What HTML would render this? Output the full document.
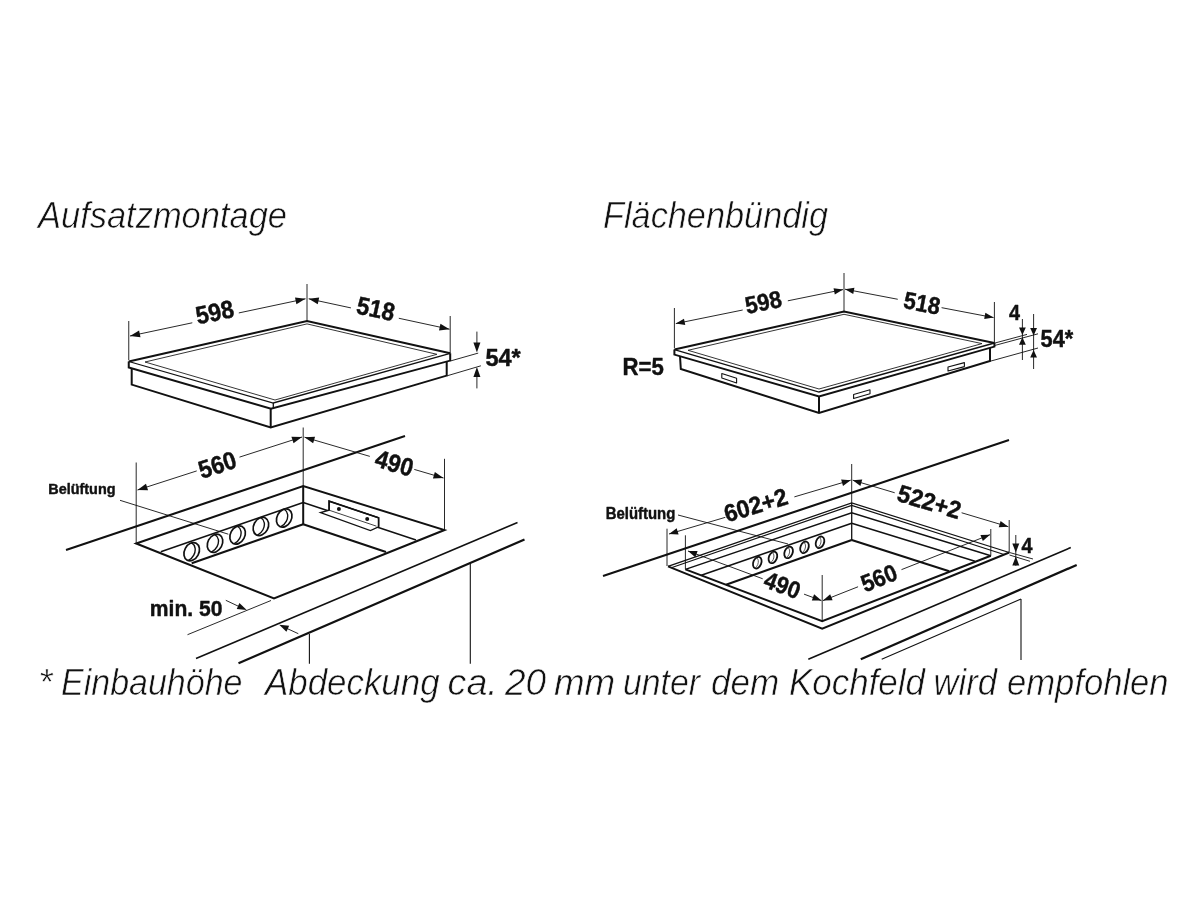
<!DOCTYPE html>
<html><head><meta charset="utf-8"><title>Einbauskizze</title>
<style>
html,body{margin:0;padding:0;background:#fff;}
body{width:1200px;height:900px;overflow:hidden;font-family:"Liberation Sans",sans-serif;}
svg{display:block;}
</style></head><body>
<svg width="1200" height="900" viewBox="0 0 1200 900">
<rect width="1200" height="900" fill="#fff"/>
<g style="opacity:0.999">
<text transform="translate(38.00 227.50) rotate(0.00) scale(1.0 1)" text-anchor="start" style="font-family:'Liberation Sans',sans-serif;font-size:36.5px;font-style:italic;" fill="#111" textLength="249.0" lengthAdjust="spacingAndGlyphs" stroke="#fff" stroke-width="0.6" paint-order="fill stroke">Aufsatzmontage</text>
<text transform="translate(603.00 227.50) rotate(0.00) scale(1.0 1)" text-anchor="start" style="font-family:'Liberation Sans',sans-serif;font-size:36.5px;font-style:italic;" fill="#111" textLength="225.0" lengthAdjust="spacingAndGlyphs" stroke="#fff" stroke-width="0.6" paint-order="fill stroke">Flächenbündig</text>
<text transform="translate(38.30 694.50) rotate(0.00) scale(1.0 1)" text-anchor="start" style="font-family:'Liberation Sans',sans-serif;font-size:36.5px;font-style:italic;" fill="#111" textLength="14.2" lengthAdjust="spacingAndGlyphs" stroke="#fff" stroke-width="0.6" paint-order="fill stroke">*</text>
<text transform="translate(61.00 694.50) rotate(0.00) scale(1.0 1)" text-anchor="start" style="font-family:'Liberation Sans',sans-serif;font-size:36.5px;font-style:italic;" fill="#111" textLength="181.5" lengthAdjust="spacingAndGlyphs" stroke="#fff" stroke-width="0.6" paint-order="fill stroke">Einbauhöhe</text>
<text transform="translate(265.00 694.50) rotate(0.00) scale(1.0 1)" text-anchor="start" style="font-family:'Liberation Sans',sans-serif;font-size:36.5px;font-style:italic;" fill="#111" textLength="174.6" lengthAdjust="spacingAndGlyphs" stroke="#fff" stroke-width="0.6" paint-order="fill stroke">Abdeckung</text>
<text transform="translate(447.60 694.50) rotate(0.00) scale(1.0 1)" text-anchor="start" style="font-family:'Liberation Sans',sans-serif;font-size:36.5px;font-style:italic;" fill="#111" textLength="50.2" lengthAdjust="spacingAndGlyphs" stroke="#fff" stroke-width="0.6" paint-order="fill stroke">ca.</text>
<text transform="translate(504.90 694.50) rotate(0.00) scale(1.0 1)" text-anchor="start" style="font-family:'Liberation Sans',sans-serif;font-size:36.5px;font-style:italic;" fill="#111" textLength="41.2" lengthAdjust="spacingAndGlyphs" stroke="#fff" stroke-width="0.6" paint-order="fill stroke">20</text>
<text transform="translate(553.90 694.50) rotate(0.00) scale(1.0 1)" text-anchor="start" style="font-family:'Liberation Sans',sans-serif;font-size:36.5px;font-style:italic;" fill="#111" textLength="61.3" lengthAdjust="spacingAndGlyphs" stroke="#fff" stroke-width="0.6" paint-order="fill stroke">mm</text>
<text transform="translate(622.90 694.50) rotate(0.00) scale(1.0 1)" text-anchor="start" style="font-family:'Liberation Sans',sans-serif;font-size:36.5px;font-style:italic;" fill="#111" textLength="77.1" lengthAdjust="spacingAndGlyphs" stroke="#fff" stroke-width="0.6" paint-order="fill stroke">unter</text>
<text transform="translate(710.90 694.50) rotate(0.00) scale(1.0 1)" text-anchor="start" style="font-family:'Liberation Sans',sans-serif;font-size:36.5px;font-style:italic;" fill="#111" textLength="68.2" lengthAdjust="spacingAndGlyphs" stroke="#fff" stroke-width="0.6" paint-order="fill stroke">dem</text>
<text transform="translate(789.00 694.50) rotate(0.00) scale(1.0 1)" text-anchor="start" style="font-family:'Liberation Sans',sans-serif;font-size:36.5px;font-style:italic;" fill="#111" textLength="136.0" lengthAdjust="spacingAndGlyphs" stroke="#fff" stroke-width="0.6" paint-order="fill stroke">Kochfeld</text>
<text transform="translate(933.50 694.50) rotate(0.00) scale(1.0 1)" text-anchor="start" style="font-family:'Liberation Sans',sans-serif;font-size:36.5px;font-style:italic;" fill="#111" textLength="63.5" lengthAdjust="spacingAndGlyphs" stroke="#fff" stroke-width="0.6" paint-order="fill stroke">wird</text>
<text transform="translate(1007.00 694.50) rotate(0.00) scale(1.0 1)" text-anchor="start" style="font-family:'Liberation Sans',sans-serif;font-size:36.5px;font-style:italic;" fill="#111" textLength="161.6" lengthAdjust="spacingAndGlyphs" stroke="#fff" stroke-width="0.6" paint-order="fill stroke">empfohlen</text>
<path d="M128.75 361.50 L307.00 321.00 L450.20 353.30" fill="none" stroke="#111" stroke-width="2.0" stroke-linejoin="miter"/>
<path d="M128.75 361.50 L273.30 403.00 L450.20 353.30" fill="none" stroke="#111" stroke-width="1.3" stroke-linejoin="miter"/>
<path d="M128.75 361.50 L128.75 367.50 L271.00 408.60 L450.20 360.60 L450.20 353.30" fill="none" stroke="#111" stroke-width="2.0" stroke-linejoin="miter"/>
<line x1="273.30" y1="403.00" x2="273.30" y2="408.90" stroke="#111" stroke-width="1.3" stroke-linecap="butt"/>
<path d="M145.00 362.00 L307.00 323.90 L436.90 354.30 L275.00 400.00 Z" fill="none" stroke="#111" stroke-width="0.85" stroke-linejoin="miter"/>
<path d="M131.70 368.00 L131.70 384.60 L270.70 427.50 L446.70 375.60 L446.70 361.00" fill="none" stroke="#111" stroke-width="2.0" stroke-linejoin="miter"/>
<line x1="270.70" y1="408.60" x2="270.70" y2="427.50" stroke="#111" stroke-width="2.0" stroke-linecap="butt"/>
<line x1="128.75" y1="321.00" x2="128.75" y2="360.00" stroke="#111" stroke-width="0.9" stroke-linecap="butt"/>
<line x1="307.00" y1="284.00" x2="307.00" y2="321.00" stroke="#111" stroke-width="0.9" stroke-linecap="butt"/>
<line x1="450.20" y1="316.00" x2="450.20" y2="353.00" stroke="#111" stroke-width="0.9" stroke-linecap="butt"/>
<line x1="130.00" y1="336.00" x2="192.30" y2="322.79" stroke="#111" stroke-width="0.9" stroke-linecap="butt"/>
<line x1="238.81" y1="312.94" x2="305.50" y2="298.80" stroke="#111" stroke-width="0.9" stroke-linecap="butt"/>
<polygon points="130.00,336.00 139.08,330.60 140.49,337.25" fill="#111"/>
<polygon points="305.50,298.80 296.42,304.20 295.01,297.55" fill="#111"/>
<text transform="translate(216.50 320.60) rotate(-11.97) scale(0.92 1)" text-anchor="middle" style="font-family:'Liberation Sans',sans-serif;font-size:25px;font-weight:bold;" fill="#111" stroke="#111" stroke-width="0.45" stroke-linejoin="round">598</text>
<line x1="308.70" y1="298.80" x2="350.94" y2="307.92" stroke="#111" stroke-width="0.9" stroke-linecap="butt"/>
<line x1="398.81" y1="318.26" x2="449.50" y2="329.20" stroke="#111" stroke-width="0.9" stroke-linecap="butt"/>
<polygon points="308.70,298.80 319.19,297.59 317.76,304.23" fill="#111"/>
<polygon points="449.50,329.20 439.01,330.41 440.44,323.77" fill="#111"/>
<text transform="translate(374.00 317.20) rotate(12.18) scale(0.92 1)" text-anchor="middle" style="font-family:'Liberation Sans',sans-serif;font-size:25px;font-weight:bold;" fill="#111" stroke="#111" stroke-width="0.45" stroke-linejoin="round">518</text>
<line x1="450.70" y1="360.90" x2="478.20" y2="353.10" stroke="#111" stroke-width="0.9" stroke-linecap="butt"/>
<line x1="447.10" y1="375.80" x2="480.90" y2="365.80" stroke="#111" stroke-width="0.9" stroke-linecap="butt"/>
<line x1="476.90" y1="331.60" x2="476.90" y2="345.00" stroke="#111" stroke-width="0.9" stroke-linecap="butt"/>
<polygon points="476.90,352.40 473.40,342.40 480.40,342.40" fill="#111"/>
<line x1="476.90" y1="376.00" x2="476.90" y2="388.40" stroke="#111" stroke-width="0.9" stroke-linecap="butt"/>
<polygon points="476.90,367.10 480.40,377.10 473.40,377.10" fill="#111"/>
<text transform="translate(485.40 366.20) rotate(0.00) scale(0.99 1)" text-anchor="start" style="font-family:'Liberation Sans',sans-serif;font-size:23.8px;font-weight:bold;" fill="#111" stroke="#111" stroke-width="0.45" stroke-linejoin="round">54*</text>
<path d="M674.40 349.60 L844.00 311.60 L994.40 343.00" fill="none" stroke="#111" stroke-width="2.0" stroke-linejoin="miter"/>
<path d="M674.40 349.60 L819.00 392.00 L994.40 343.00" fill="none" stroke="#111" stroke-width="1.3" stroke-linejoin="miter"/>
<path d="M674.40 349.60 L674.40 354.60 L819.00 396.50 L994.40 346.60 L994.40 343.00" fill="none" stroke="#111" stroke-width="2.0" stroke-linejoin="miter"/>
<path d="M688.00 350.30 L844.00 314.30 L982.00 343.60 L819.00 389.00 Z" fill="none" stroke="#111" stroke-width="0.85" stroke-linejoin="miter"/>
<path d="M680.00 356.00 L680.80 369.00 L819.00 413.00 L990.00 361.00 L990.00 348.00" fill="none" stroke="#111" stroke-width="2.0" stroke-linejoin="miter"/>
<line x1="819.00" y1="396.50" x2="819.00" y2="413.00" stroke="#111" stroke-width="2.0" stroke-linecap="butt"/>
<path d="M721.80 373.50 L736.60 378.30 L736.60 382.90 L721.80 378.10 Z" fill="none" stroke="#111" stroke-width="1.1" stroke-linejoin="round"/>
<path d="M853.60 394.50 L870.00 389.80 L870.00 393.80 L853.60 398.50 Z" fill="none" stroke="#111" stroke-width="1.1" stroke-linejoin="round"/>
<path d="M948.00 367.00 L964.40 362.60 L964.40 366.60 L948.00 371.00 Z" fill="none" stroke="#111" stroke-width="1.1" stroke-linejoin="round"/>
<line x1="674.40" y1="308.00" x2="674.40" y2="348.00" stroke="#111" stroke-width="0.9" stroke-linecap="butt"/>
<line x1="844.00" y1="273.00" x2="844.00" y2="311.60" stroke="#111" stroke-width="0.9" stroke-linecap="butt"/>
<line x1="994.40" y1="302.00" x2="994.40" y2="343.00" stroke="#111" stroke-width="0.9" stroke-linecap="butt"/>
<line x1="675.80" y1="323.60" x2="742.68" y2="310.00" stroke="#111" stroke-width="0.9" stroke-linecap="butt"/>
<line x1="787.82" y1="300.82" x2="843.00" y2="289.60" stroke="#111" stroke-width="0.9" stroke-linecap="butt"/>
<polygon points="675.80,323.60 683.98,318.67 685.26,324.94" fill="#111"/>
<polygon points="843.00,289.60 834.82,294.53 833.54,288.26" fill="#111"/>
<text transform="translate(765.00 310.30) rotate(-11.49) scale(0.92 1)" text-anchor="middle" style="font-family:'Liberation Sans',sans-serif;font-size:24px;font-weight:bold;" fill="#111" stroke="#111" stroke-width="0.45" stroke-linejoin="round">598</text>
<line x1="845.00" y1="289.20" x2="897.75" y2="299.28" stroke="#111" stroke-width="0.9" stroke-linecap="butt"/>
<line x1="941.59" y1="307.66" x2="993.60" y2="317.60" stroke="#111" stroke-width="0.9" stroke-linecap="butt"/>
<polygon points="845.00,289.20 854.44,287.75 853.24,294.03" fill="#111"/>
<polygon points="993.60,317.60 984.16,319.05 985.36,312.77" fill="#111"/>
<text transform="translate(920.50 311.30) rotate(10.82) scale(0.92 1)" text-anchor="middle" style="font-family:'Liberation Sans',sans-serif;font-size:24px;font-weight:bold;" fill="#111" stroke="#111" stroke-width="0.45" stroke-linejoin="round">518</text>
<line x1="995.00" y1="343.00" x2="1027.00" y2="334.40" stroke="#111" stroke-width="0.9" stroke-linecap="butt"/>
<line x1="995.00" y1="345.40" x2="1038.00" y2="333.80" stroke="#111" stroke-width="0.9" stroke-linecap="butt"/>
<line x1="991.00" y1="361.00" x2="1038.00" y2="348.00" stroke="#111" stroke-width="0.9" stroke-linecap="butt"/>
<line x1="1022.40" y1="319.00" x2="1022.40" y2="360.00" stroke="#111" stroke-width="0.9" stroke-linecap="butt"/>
<polygon points="1022.40,335.00 1019.00,327.50 1025.80,327.50" fill="#111"/>
<polygon points="1022.40,337.20 1025.80,344.70 1019.00,344.70" fill="#111"/>
<line x1="1033.60" y1="314.00" x2="1033.60" y2="369.00" stroke="#111" stroke-width="0.9" stroke-linecap="butt"/>
<polygon points="1033.60,335.60 1030.20,328.10 1037.00,328.10" fill="#111"/>
<polygon points="1033.60,350.00 1037.00,357.50 1030.20,357.50" fill="#111"/>
<text transform="translate(1009.00 320.00) rotate(0.00) scale(0.9 1)" text-anchor="start" style="font-family:'Liberation Sans',sans-serif;font-size:22px;font-weight:bold;" fill="#111" stroke="#111" stroke-width="0.45" stroke-linejoin="round">4</text>
<text transform="translate(1040.60 346.60) rotate(0.00) scale(0.915 1)" text-anchor="start" style="font-family:'Liberation Sans',sans-serif;font-size:23.8px;font-weight:bold;" fill="#111" stroke="#111" stroke-width="0.45" stroke-linejoin="round">54*</text>
<text transform="translate(622.60 375.00) rotate(0.00) scale(0.895 1)" text-anchor="start" style="font-family:'Liberation Sans',sans-serif;font-size:24.8px;font-weight:bold;" fill="#111" stroke="#111" stroke-width="0.45" stroke-linejoin="round">R=5</text>
<line x1="66.00" y1="550.00" x2="405.00" y2="436.00" stroke="#111" stroke-width="2.0" stroke-linecap="butt"/>
<path d="M136.20 543.50 L303.20 486.00 L444.50 530.00 L274.00 598.50 Z" fill="none" stroke="#111" stroke-width="2.0" stroke-linejoin="miter"/>
<line x1="160.80" y1="551.70" x2="303.20" y2="502.50" stroke="#111" stroke-width="1.5" stroke-linecap="butt"/>
<line x1="303.20" y1="502.50" x2="416.00" y2="540.00" stroke="#111" stroke-width="1.5" stroke-linecap="butt"/>
<line x1="191.70" y1="563.30" x2="303.20" y2="524.20" stroke="#111" stroke-width="2.0" stroke-linecap="butt"/>
<line x1="303.20" y1="524.20" x2="386.00" y2="552.00" stroke="#111" stroke-width="2.0" stroke-linecap="butt"/>
<line x1="303.20" y1="486.00" x2="303.20" y2="524.20" stroke="#111" stroke-width="2.0" stroke-linecap="butt"/>
<line x1="136.20" y1="462.50" x2="136.20" y2="543.50" stroke="#111" stroke-width="0.9" stroke-linecap="butt"/>
<line x1="303.20" y1="427.50" x2="303.20" y2="486.00" stroke="#111" stroke-width="0.9" stroke-linecap="butt"/>
<line x1="444.50" y1="458.80" x2="444.50" y2="530.00" stroke="#111" stroke-width="0.9" stroke-linecap="butt"/>
<line x1="137.50" y1="490.00" x2="196.72" y2="470.92" stroke="#111" stroke-width="0.9" stroke-linecap="butt"/>
<line x1="239.49" y1="457.14" x2="302.00" y2="437.00" stroke="#111" stroke-width="0.9" stroke-linecap="butt"/>
<polygon points="137.50,490.00 145.98,483.70 148.06,490.17" fill="#111"/>
<polygon points="302.00,437.00 293.52,443.30 291.44,436.83" fill="#111"/>
<text transform="translate(220.00 473.00) rotate(-17.86) scale(0.92 1)" text-anchor="middle" style="font-family:'Liberation Sans',sans-serif;font-size:25px;font-weight:bold;" fill="#111" stroke="#111" stroke-width="0.45" stroke-linejoin="round">560</text>
<line x1="304.50" y1="437.20" x2="369.83" y2="456.38" stroke="#111" stroke-width="0.9" stroke-linecap="butt"/>
<line x1="414.31" y1="469.43" x2="443.50" y2="478.00" stroke="#111" stroke-width="0.9" stroke-linecap="butt"/>
<polygon points="304.50,437.20 315.05,436.75 313.14,443.28" fill="#111"/>
<polygon points="443.50,478.00 432.95,478.45 434.86,471.92" fill="#111"/>
<text transform="translate(392.00 471.50) rotate(16.36) scale(0.92 1)" text-anchor="middle" style="font-family:'Liberation Sans',sans-serif;font-size:25px;font-weight:bold;" fill="#111" stroke="#111" stroke-width="0.45" stroke-linejoin="round">490</text>
<g transform="translate(191.7 551.7) rotate(-62)"><clipPath id="c191"><ellipse rx="9.6" ry="7.2"/></clipPath><ellipse rx="9.6" ry="7.2" fill="#fff" stroke="#111" stroke-width="1.7"/><ellipse cx="-2.0" cy="-3.8" rx="9.6" ry="7.2" fill="none" stroke="#111" stroke-width="1.4" clip-path="url(#c191)"/></g>
<g transform="translate(215 543.3) rotate(-62)"><clipPath id="c215"><ellipse rx="9.6" ry="7.2"/></clipPath><ellipse rx="9.6" ry="7.2" fill="#fff" stroke="#111" stroke-width="1.7"/><ellipse cx="-2.0" cy="-3.8" rx="9.6" ry="7.2" fill="none" stroke="#111" stroke-width="1.4" clip-path="url(#c215)"/></g>
<g transform="translate(237.6 535) rotate(-62)"><clipPath id="c237"><ellipse rx="9.6" ry="7.2"/></clipPath><ellipse rx="9.6" ry="7.2" fill="#fff" stroke="#111" stroke-width="1.7"/><ellipse cx="-2.0" cy="-3.8" rx="9.6" ry="7.2" fill="none" stroke="#111" stroke-width="1.4" clip-path="url(#c237)"/></g>
<g transform="translate(260.9 526.4) rotate(-62)"><clipPath id="c260"><ellipse rx="9.6" ry="7.2"/></clipPath><ellipse rx="9.6" ry="7.2" fill="#fff" stroke="#111" stroke-width="1.7"/><ellipse cx="-2.0" cy="-3.8" rx="9.6" ry="7.2" fill="none" stroke="#111" stroke-width="1.4" clip-path="url(#c260)"/></g>
<g transform="translate(284.2 518) rotate(-62)"><clipPath id="c284"><ellipse rx="9.6" ry="7.2"/></clipPath><ellipse rx="9.6" ry="7.2" fill="#fff" stroke="#111" stroke-width="1.7"/><ellipse cx="-2.0" cy="-3.8" rx="9.6" ry="7.2" fill="none" stroke="#111" stroke-width="1.4" clip-path="url(#c284)"/></g>
<line x1="120.00" y1="500.30" x2="228.30" y2="534.20" stroke="#111" stroke-width="0.9" stroke-linecap="butt"/>
<text transform="translate(48.30 494.00) rotate(0.00) scale(1 1)" text-anchor="start" style="font-family:'Liberation Sans',sans-serif;font-size:15.3px;font-weight:bold;" fill="#111" textLength="67.2" lengthAdjust="spacingAndGlyphs" stroke="#111" stroke-width="0.45" stroke-linejoin="round">Belüftung</text>
<path d="M329.10 501.20 L378.60 517.80 L378.60 526.80 L370.40 530.50 L320.50 512.50 L329.10 510.20 Z" fill="#fff" stroke="#111" stroke-width="1.3" stroke-linejoin="miter"/>
<path d="M329.10 510.20 L329.10 501.20 L378.60 517.80 L378.60 526.80" fill="none" stroke="#111" stroke-width="1.6" stroke-linejoin="miter"/>
<line x1="329.10" y1="510.20" x2="376.50" y2="526.20" stroke="#111" stroke-width="0.8" stroke-linecap="butt"/>
<circle cx="338.9" cy="509.1" r="2" fill="#111"/><circle cx="367.2" cy="518.9" r="2" fill="#111"/>
<line x1="517.50" y1="522.50" x2="196.00" y2="658.50" stroke="#111" stroke-width="1.6" stroke-linecap="butt"/>
<line x1="524.50" y1="539.50" x2="238.50" y2="663.20" stroke="#111" stroke-width="2.3" stroke-linecap="butt"/>
<line x1="309.40" y1="634.00" x2="309.40" y2="663.80" stroke="#111" stroke-width="1.1" stroke-linecap="butt"/>
<line x1="470.30" y1="563.50" x2="470.30" y2="663.80" stroke="#111" stroke-width="1.1" stroke-linecap="butt"/>
<line x1="271.00" y1="600.50" x2="187.50" y2="634.70" stroke="#111" stroke-width="0.9" stroke-linecap="butt"/>
<text transform="translate(149.80 616.00) rotate(0.00) scale(1 1)" text-anchor="start" style="font-family:'Liberation Sans',sans-serif;font-size:22.5px;font-weight:bold;" fill="#111" textLength="72.6" lengthAdjust="spacingAndGlyphs" stroke="#111" stroke-width="0.45" stroke-linejoin="round">min. 50</text>
<line x1="225.80" y1="600.30" x2="240.00" y2="607.00" stroke="#111" stroke-width="0.9" stroke-linecap="butt"/>
<polygon points="246.70,610.00 236.74,608.90 239.43,603.10" fill="#111"/>
<line x1="298.30" y1="633.70" x2="286.00" y2="628.00" stroke="#111" stroke-width="0.9" stroke-linecap="butt"/>
<polygon points="279.20,624.70 289.16,625.85 286.43,631.64" fill="#111"/>
<line x1="603.00" y1="576.00" x2="1009.00" y2="440.00" stroke="#111" stroke-width="2.0" stroke-linecap="butt"/>
<path d="M668.00 566.40 L851.70 503.00 L1009.20 552.50" fill="none" stroke="#111" stroke-width="1.3" stroke-linejoin="miter"/>
<path d="M668.00 566.40 L822.20 628.70 L1009.20 552.50" fill="none" stroke="#111" stroke-width="2.0" stroke-linejoin="miter"/>
<path d="M672.00 567.60 L851.70 505.40 L1004.00 554.60" fill="none" stroke="#111" stroke-width="1.1" stroke-linejoin="miter"/>
<path d="M685.40 569.40 L851.70 512.70 L990.80 555.80" fill="none" stroke="#111" stroke-width="1.5" stroke-linejoin="miter"/>
<path d="M685.40 569.40 L822.20 621.30 L990.80 555.80" fill="none" stroke="#111" stroke-width="2.0" stroke-linejoin="miter"/>
<line x1="701.30" y1="575.30" x2="851.70" y2="523.30" stroke="#111" stroke-width="1.5" stroke-linecap="butt"/>
<line x1="851.70" y1="523.30" x2="975.00" y2="561.20" stroke="#111" stroke-width="1.5" stroke-linecap="butt"/>
<line x1="726.00" y1="584.70" x2="851.70" y2="540.00" stroke="#111" stroke-width="2.0" stroke-linecap="butt"/>
<line x1="851.70" y1="540.00" x2="949.20" y2="571.30" stroke="#111" stroke-width="2.0" stroke-linecap="butt"/>
<line x1="851.70" y1="503.00" x2="851.70" y2="540.00" stroke="#111" stroke-width="1.3" stroke-linecap="butt"/>
<line x1="667.00" y1="528.70" x2="667.00" y2="566.00" stroke="#111" stroke-width="0.9" stroke-linecap="butt"/>
<line x1="685.40" y1="535.30" x2="685.40" y2="569.30" stroke="#111" stroke-width="0.9" stroke-linecap="butt"/>
<line x1="851.70" y1="464.00" x2="851.70" y2="503.00" stroke="#111" stroke-width="0.9" stroke-linecap="butt"/>
<line x1="1009.20" y1="520.00" x2="1009.20" y2="552.50" stroke="#111" stroke-width="0.9" stroke-linecap="butt"/>
<line x1="990.80" y1="529.00" x2="990.80" y2="555.80" stroke="#111" stroke-width="0.9" stroke-linecap="butt"/>
<line x1="822.20" y1="575.00" x2="822.20" y2="621.30" stroke="#111" stroke-width="0.9" stroke-linecap="butt"/>
<line x1="669.00" y1="534.00" x2="725.33" y2="517.32" stroke="#111" stroke-width="0.9" stroke-linecap="butt"/>
<line x1="794.37" y1="496.88" x2="850.70" y2="480.20" stroke="#111" stroke-width="0.9" stroke-linecap="butt"/>
<polygon points="669.00,534.00 676.69,528.28 678.57,534.61" fill="#111"/>
<polygon points="850.70,480.20 843.01,485.92 841.13,479.59" fill="#111"/>
<text transform="translate(758.20 513.20) rotate(-16.49) scale(0.95 1)" text-anchor="middle" style="font-family:'Liberation Sans',sans-serif;font-size:24.4px;font-weight:bold;" fill="#111" stroke="#111" stroke-width="0.45" stroke-linejoin="round">602+2</text>
<line x1="852.70" y1="480.20" x2="894.71" y2="492.75" stroke="#111" stroke-width="0.9" stroke-linecap="butt"/>
<line x1="961.62" y1="512.75" x2="1008.30" y2="526.70" stroke="#111" stroke-width="0.9" stroke-linecap="butt"/>
<polygon points="852.70,480.20 862.27,479.62 860.38,485.94" fill="#111"/>
<polygon points="1008.30,526.70 998.73,527.28 1000.62,520.96" fill="#111"/>
<text transform="translate(926.80 509.80) rotate(16.64) scale(0.95 1)" text-anchor="middle" style="font-family:'Liberation Sans',sans-serif;font-size:24.4px;font-weight:bold;" fill="#111" stroke="#111" stroke-width="0.45" stroke-linejoin="round">522+2</text>
<line x1="688.00" y1="551.00" x2="762.70" y2="578.78" stroke="#111" stroke-width="0.9" stroke-linecap="butt"/>
<line x1="804.06" y1="594.15" x2="821.40" y2="600.60" stroke="#111" stroke-width="0.9" stroke-linecap="butt"/>
<polygon points="688.00,551.00 697.59,551.04 695.29,557.23" fill="#111"/>
<polygon points="821.40,600.60 811.81,600.56 814.11,594.37" fill="#111"/>
<text transform="translate(779.50 593.00) rotate(20.40) scale(0.92 1)" text-anchor="middle" style="font-family:'Liberation Sans',sans-serif;font-size:24px;font-weight:bold;" fill="#111" stroke="#111" stroke-width="0.45" stroke-linejoin="round">490</text>
<line x1="823.00" y1="600.60" x2="858.07" y2="586.76" stroke="#111" stroke-width="0.9" stroke-linecap="butt"/>
<line x1="901.49" y1="569.63" x2="990.00" y2="534.70" stroke="#111" stroke-width="0.9" stroke-linecap="butt"/>
<polygon points="823.00,600.60 830.16,594.23 832.58,600.37" fill="#111"/>
<polygon points="990.00,534.70 982.84,541.07 980.42,534.93" fill="#111"/>
<text transform="translate(882.00 585.80) rotate(-21.53) scale(0.92 1)" text-anchor="middle" style="font-family:'Liberation Sans',sans-serif;font-size:24px;font-weight:bold;" fill="#111" stroke="#111" stroke-width="0.45" stroke-linejoin="round">560</text>
<g transform="translate(757.3 562.7) rotate(-68)"><clipPath id="d757"><ellipse rx="6" ry="4"/></clipPath><ellipse rx="6" ry="4" fill="#fff" stroke="#111" stroke-width="1.8"/><ellipse cx="-1.6" cy="-2.9" rx="6" ry="4" fill="none" stroke="#444" stroke-width="0.8" clip-path="url(#d757)"/></g>
<g transform="translate(772.9 557.4) rotate(-68)"><clipPath id="d772"><ellipse rx="6" ry="4"/></clipPath><ellipse rx="6" ry="4" fill="#fff" stroke="#111" stroke-width="1.8"/><ellipse cx="-1.6" cy="-2.9" rx="6" ry="4" fill="none" stroke="#444" stroke-width="0.8" clip-path="url(#d772)"/></g>
<g transform="translate(788.6 552.4) rotate(-68)"><clipPath id="d788"><ellipse rx="6" ry="4"/></clipPath><ellipse rx="6" ry="4" fill="#fff" stroke="#111" stroke-width="1.8"/><ellipse cx="-1.6" cy="-2.9" rx="6" ry="4" fill="none" stroke="#444" stroke-width="0.8" clip-path="url(#d788)"/></g>
<g transform="translate(804.5 547.3) rotate(-68)"><clipPath id="d804"><ellipse rx="6" ry="4"/></clipPath><ellipse rx="6" ry="4" fill="#fff" stroke="#111" stroke-width="1.8"/><ellipse cx="-1.6" cy="-2.9" rx="6" ry="4" fill="none" stroke="#444" stroke-width="0.8" clip-path="url(#d804)"/></g>
<g transform="translate(820 542.3) rotate(-68)"><clipPath id="d820"><ellipse rx="6" ry="4"/></clipPath><ellipse rx="6" ry="4" fill="#fff" stroke="#111" stroke-width="1.8"/><ellipse cx="-1.6" cy="-2.9" rx="6" ry="4" fill="none" stroke="#444" stroke-width="0.8" clip-path="url(#d820)"/></g>
<line x1="678.00" y1="515.00" x2="788.00" y2="544.00" stroke="#111" stroke-width="0.9" stroke-linecap="butt"/>
<text transform="translate(605.70 519.00) rotate(0.00) scale(1 1)" text-anchor="start" style="font-family:'Liberation Sans',sans-serif;font-size:16px;font-weight:bold;" fill="#111" textLength="69.6" lengthAdjust="spacingAndGlyphs" stroke="#111" stroke-width="0.45" stroke-linejoin="round">Belüftung</text>
<line x1="1009.50" y1="552.50" x2="1033.00" y2="559.00" stroke="#111" stroke-width="0.9" stroke-linecap="butt"/>
<line x1="1009.50" y1="555.00" x2="1030.00" y2="561.30" stroke="#111" stroke-width="0.9" stroke-linecap="butt"/>
<line x1="1015.80" y1="535.00" x2="1015.80" y2="565.80" stroke="#111" stroke-width="0.9" stroke-linecap="butt"/>
<polygon points="1015.80,552.60 1012.30,543.60 1019.30,543.60" fill="#111"/>
<polygon points="1015.80,556.60 1019.30,565.60 1012.30,565.60" fill="#111"/>
<text transform="translate(1021.50 552.50) rotate(0.00) scale(0.9 1)" text-anchor="start" style="font-family:'Liberation Sans',sans-serif;font-size:22px;font-weight:bold;" fill="#111" stroke="#111" stroke-width="0.45" stroke-linejoin="round">4</text>
<line x1="1070.80" y1="547.50" x2="808.30" y2="659.20" stroke="#111" stroke-width="1.6" stroke-linecap="butt"/>
<line x1="1076.70" y1="565.00" x2="860.80" y2="659.20" stroke="#111" stroke-width="2.3" stroke-linecap="butt"/>
<line x1="1021.00" y1="599.00" x2="881.70" y2="659.20" stroke="#111" stroke-width="1.1" stroke-linecap="butt"/>
<line x1="1021.00" y1="599.00" x2="1021.00" y2="660.00" stroke="#111" stroke-width="1.1" stroke-linecap="butt"/>
</g>
</svg>
</body></html>
